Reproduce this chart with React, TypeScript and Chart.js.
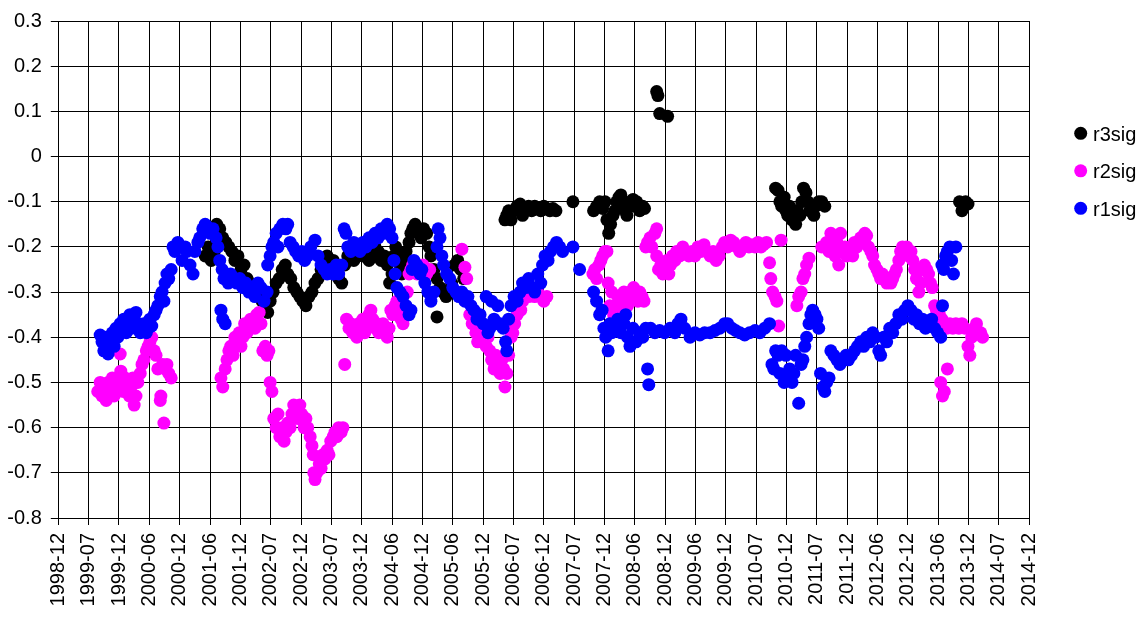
import { useEffect, useRef } from "react";
import { Chart, registerables } from "chart.js";

Chart.register(...registerables);

// ---------- data ----------
const xTickLabels = [
  "1998-12", "1999-07", "1999-12", "2000-06", "2000-12", "2001-06", "2001-12",
  "2002-07", "2002-12", "2003-07", "2003-12", "2004-06", "2004-12", "2005-06",
  "2005-12", "2006-07", "2006-12", "2007-07", "2007-12", "2008-06", "2008-12",
  "2009-06", "2009-12", "2010-07", "2010-12", "2011-07", "2011-12", "2012-06",
  "2012-12", "2013-06", "2013-12", "2014-07", "2014-12",
];

const seriesNames = ["r3sig", "r2sig", "r1sig"];
const seriesColors = ["#000000", "#FF00FF", "#0000FF"];

// [decimal year, value]
const r3sig: [number, number][] = [
  [2001.42, -0.22], [2001.47, -0.2], [2001.52, -0.23], [2001.57, -0.21], [2001.61, -0.15],
  [2001.66, -0.16], [2001.71, -0.18], [2001.76, -0.19], [2001.81, -0.2], [2001.86, -0.21],
  [2001.91, -0.23], [2001.96, -0.22], [2002.01, -0.25], [2002.06, -0.24], [2002.11, -0.27],
  [2002.16, -0.28], [2002.21, -0.3], [2002.26, -0.29], [2002.31, -0.31], [2002.36, -0.32],
  [2002.41, -0.33], [2002.45, -0.345], [2002.49, -0.32], [2002.54, -0.3], [2002.59, -0.28],
  [2002.64, -0.27], [2002.69, -0.25], [2002.74, -0.24], [2002.78, -0.26], [2002.83, -0.27],
  [2002.88, -0.29], [2002.93, -0.3], [2002.98, -0.31], [2003.03, -0.32], [2003.08, -0.33],
  [2003.13, -0.31], [2003.18, -0.3], [2003.23, -0.28], [2003.28, -0.27], [2003.33, -0.25],
  [2003.38, -0.23], [2003.43, -0.22], [2003.48, -0.24], [2003.53, -0.23], [2003.58, -0.25],
  [2003.62, -0.27], [2003.67, -0.28], [2003.72, -0.24], [2003.77, -0.22], [2003.82, -0.21],
  [2003.87, -0.23], [2003.92, -0.22], [2003.97, -0.2], [2004.02, -0.22], [2004.07, -0.21],
  [2004.12, -0.23], [2004.17, -0.22], [2004.22, -0.2], [2004.27, -0.21], [2004.32, -0.23],
  [2004.37, -0.22], [2004.42, -0.24], [2004.46, -0.28], [2004.5, -0.26], [2004.53, -0.22],
  [2004.56, -0.2], [2004.6, -0.22], [2004.63, -0.24], [2004.66, -0.26], [2004.69, -0.23],
  [2004.73, -0.21], [2004.78, -0.19], [2004.81, -0.17], [2004.84, -0.16], [2004.88, -0.15],
  [2004.93, -0.165], [2004.98, -0.18], [2005.02, -0.16], [2005.07, -0.17], [2005.11, -0.2],
  [2005.14, -0.22], [2005.19, -0.25], [2005.24, -0.27], [2005.24, -0.355], [2005.29, -0.29],
  [2005.34, -0.3], [2005.39, -0.31], [2005.43, -0.3], [2005.48, -0.28], [2005.53, -0.24],
  [2005.58, -0.23], [2005.63, -0.25], [2005.68, -0.27],
  [2006.36, -0.14], [2006.39, -0.13], [2006.42, -0.12], [2006.46, -0.14], [2006.51, -0.12],
  [2006.56, -0.11], [2006.61, -0.105], [2006.65, -0.13], [2006.7, -0.12], [2006.75, -0.11],
  [2006.8, -0.12], [2006.85, -0.11], [2006.9, -0.115], [2006.95, -0.12], [2007.0, -0.11],
  [2007.05, -0.115], [2007.1, -0.12], [2007.15, -0.115], [2007.2, -0.12], [2007.48, -0.1],
  [2007.82, -0.12], [2007.87, -0.11], [2007.92, -0.1], [2007.97, -0.115], [2008.01, -0.1],
  [2008.04, -0.14], [2008.07, -0.17], [2008.1, -0.15], [2008.14, -0.13], [2008.17, -0.12],
  [2008.2, -0.1], [2008.24, -0.09], [2008.27, -0.085], [2008.3, -0.1], [2008.34, -0.12],
  [2008.37, -0.13], [2008.4, -0.11], [2008.43, -0.1], [2008.47, -0.095], [2008.5, -0.11],
  [2008.53, -0.1], [2008.58, -0.12], [2008.63, -0.11], [2008.66, -0.115],
  [2008.86, 0.144], [2008.88, 0.135], [2008.91, 0.095], [2009.04, 0.089],
  [2010.82, -0.07], [2010.86, -0.075], [2010.89, -0.1], [2010.92, -0.11], [2010.96, -0.09],
  [2010.99, -0.12], [2011.02, -0.13], [2011.05, -0.11], [2011.09, -0.14], [2011.12, -0.13],
  [2011.15, -0.15], [2011.18, -0.12], [2011.22, -0.13], [2011.25, -0.1], [2011.28, -0.07],
  [2011.32, -0.08], [2011.35, -0.1], [2011.38, -0.12], [2011.41, -0.11], [2011.45, -0.13],
  [2011.48, -0.11], [2011.53, -0.1], [2011.58, -0.1], [2011.63, -0.11],
  [2013.85, -0.1], [2013.89, -0.12], [2013.92, -0.11], [2013.95, -0.1], [2013.99, -0.105],
];

const r2sig: [number, number][] = [
  [1999.65, -0.52], [1999.69, -0.5], [1999.72, -0.53], [1999.75, -0.51], [1999.79, -0.54],
  [1999.82, -0.5], [1999.85, -0.52], [1999.89, -0.49], [1999.92, -0.53], [1999.95, -0.51],
  [1999.98, -0.5], [2000.02, -0.437], [2000.03, -0.475], [2000.07, -0.52], [2000.1, -0.49],
  [2000.13, -0.5], [2000.17, -0.53], [2000.2, -0.51], [2000.23, -0.49], [2000.25, -0.55],
  [2000.28, -0.53], [2000.31, -0.5], [2000.35, -0.48], [2000.38, -0.46], [2000.41, -0.45],
  [2000.45, -0.43], [2000.48, -0.42], [2000.51, -0.41], [2000.54, -0.4], [2000.58, -0.43],
  [2000.61, -0.44], [2000.64, -0.47], [2000.68, -0.54], [2000.69, -0.53], [2000.72, -0.46],
  [2000.74, -0.59], [2000.76, -0.47], [2000.79, -0.46], [2000.82, -0.48], [2000.86, -0.49],
  [2001.68, -0.49], [2001.71, -0.51], [2001.75, -0.47], [2001.78, -0.45], [2001.81, -0.43],
  [2001.84, -0.42], [2001.88, -0.44], [2001.91, -0.4], [2001.94, -0.41], [2001.98, -0.39],
  [2002.01, -0.42], [2002.04, -0.4], [2002.07, -0.37], [2002.11, -0.39], [2002.14, -0.38],
  [2002.17, -0.36], [2002.21, -0.37], [2002.24, -0.38], [2002.27, -0.35], [2002.31, -0.345],
  [2002.34, -0.37], [2002.37, -0.43], [2002.41, -0.42], [2002.44, -0.44], [2002.47, -0.43],
  [2002.49, -0.5], [2002.52, -0.52], [2002.55, -0.58], [2002.59, -0.6], [2002.62, -0.57],
  [2002.65, -0.62], [2002.69, -0.6], [2002.72, -0.63], [2002.75, -0.61], [2002.78, -0.59],
  [2002.82, -0.6], [2002.85, -0.57], [2002.88, -0.55], [2002.91, -0.56], [2002.95, -0.58],
  [2002.98, -0.55], [2003.01, -0.57], [2003.05, -0.6], [2003.08, -0.58], [2003.11, -0.6],
  [2003.15, -0.62], [2003.18, -0.64], [2003.2, -0.66], [2003.21, -0.7], [2003.23, -0.715],
  [2003.26, -0.7], [2003.3, -0.68], [2003.33, -0.69], [2003.36, -0.66], [2003.39, -0.67],
  [2003.43, -0.65], [2003.46, -0.66], [2003.49, -0.63], [2003.53, -0.62], [2003.56, -0.61],
  [2003.59, -0.62], [2003.62, -0.6], [2003.66, -0.61], [2003.69, -0.6],
  [2003.72, -0.46], [2003.75, -0.36], [2003.79, -0.38], [2003.82, -0.37], [2003.85, -0.39],
  [2003.89, -0.38], [2003.92, -0.4], [2003.95, -0.37], [2003.99, -0.38], [2004.02, -0.36],
  [2004.05, -0.39], [2004.09, -0.37], [2004.12, -0.35], [2004.15, -0.34], [2004.18, -0.36],
  [2004.22, -0.38], [2004.25, -0.37], [2004.28, -0.39], [2004.32, -0.38], [2004.35, -0.37],
  [2004.38, -0.39], [2004.42, -0.4], [2004.45, -0.38], [2004.48, -0.34], [2004.51, -0.35],
  [2004.55, -0.33], [2004.58, -0.32], [2004.61, -0.34], [2004.65, -0.36], [2004.68, -0.37],
  [2004.71, -0.33], [2004.75, -0.3], [2004.78, -0.26], [2004.81, -0.25], [2004.84, -0.24],
  [2004.88, -0.25], [2004.91, -0.26], [2004.94, -0.24], [2004.98, -0.25], [2005.01, -0.24],
  [2005.04, -0.25], [2005.07, -0.26], [2005.12, -0.25],
  [2005.65, -0.205], [2005.7, -0.245], [2005.73, -0.27], [2005.78, -0.35], [2005.82, -0.37],
  [2005.85, -0.36], [2005.88, -0.39], [2005.91, -0.41], [2005.95, -0.4], [2005.98, -0.38],
  [2006.01, -0.39], [2006.05, -0.42], [2006.08, -0.4], [2006.11, -0.43], [2006.14, -0.45],
  [2006.18, -0.47], [2006.21, -0.44], [2006.24, -0.46], [2006.28, -0.48], [2006.31, -0.45],
  [2006.34, -0.47], [2006.36, -0.51], [2006.39, -0.48], [2006.42, -0.44], [2006.46, -0.4],
  [2006.49, -0.39], [2006.52, -0.37], [2006.56, -0.35], [2006.59, -0.33], [2006.62, -0.34],
  [2006.65, -0.32], [2006.7, -0.3], [2006.75, -0.31], [2006.8, -0.3], [2006.85, -0.31],
  [2006.9, -0.3], [2006.95, -0.31], [2007.0, -0.32], [2007.05, -0.31],
  [2007.81, -0.26], [2007.84, -0.25], [2007.87, -0.27], [2007.91, -0.24], [2007.94, -0.23],
  [2007.97, -0.22], [2008.01, -0.21], [2008.04, -0.21], [2008.06, -0.28], [2008.09, -0.33],
  [2008.12, -0.3], [2008.15, -0.35], [2008.19, -0.33], [2008.22, -0.31], [2008.25, -0.34],
  [2008.29, -0.32], [2008.32, -0.3], [2008.35, -0.31], [2008.38, -0.33], [2008.42, -0.3],
  [2008.45, -0.31], [2008.48, -0.29], [2008.52, -0.3], [2008.55, -0.32], [2008.58, -0.3],
  [2008.62, -0.31], [2008.65, -0.32], [2008.68, -0.2], [2008.71, -0.19], [2008.75, -0.18],
  [2008.78, -0.2], [2008.83, -0.17], [2008.86, -0.16],
  [2008.86, -0.22], [2008.89, -0.25], [2008.93, -0.24], [2008.96, -0.26], [2008.99, -0.25],
  [2009.03, -0.23], [2009.06, -0.26], [2009.09, -0.24], [2009.12, -0.22], [2009.16, -0.23],
  [2009.19, -0.21], [2009.24, -0.22], [2009.29, -0.2], [2009.34, -0.21], [2009.39, -0.22],
  [2009.44, -0.21], [2009.49, -0.22], [2009.54, -0.2], [2009.59, -0.21], [2009.64, -0.195],
  [2009.69, -0.21], [2009.74, -0.22], [2009.79, -0.21], [2009.84, -0.23], [2009.89, -0.22],
  [2009.94, -0.2], [2009.98, -0.19], [2010.03, -0.2], [2010.08, -0.185], [2010.13, -0.19],
  [2010.18, -0.2], [2010.23, -0.21], [2010.28, -0.2], [2010.33, -0.19], [2010.38, -0.2],
  [2010.43, -0.195], [2010.48, -0.2], [2010.53, -0.19], [2010.58, -0.2], [2010.62, -0.195],
  [2010.67, -0.19], [2010.72, -0.235], [2010.74, -0.27], [2010.77, -0.3], [2010.81, -0.31],
  [2010.84, -0.32], [2010.87, -0.375], [2010.91, -0.185],
  [2011.17, -0.33], [2011.2, -0.31], [2011.24, -0.3], [2011.27, -0.27], [2011.3, -0.26],
  [2011.33, -0.24], [2011.37, -0.225], [2011.58, -0.2], [2011.66, -0.19], [2011.7, -0.21],
  [2011.73, -0.17], [2011.76, -0.2], [2011.8, -0.22], [2011.83, -0.19], [2011.86, -0.24],
  [2011.89, -0.17], [2011.93, -0.21], [2011.96, -0.2], [2011.99, -0.22], [2012.02, -0.21],
  [2012.06, -0.2], [2012.09, -0.22], [2012.12, -0.19], [2012.16, -0.2], [2012.19, -0.19],
  [2012.22, -0.18], [2012.25, -0.18], [2012.29, -0.17], [2012.32, -0.175], [2012.35, -0.2],
  [2012.39, -0.21], [2012.42, -0.22], [2012.45, -0.24], [2012.49, -0.25], [2012.52, -0.26],
  [2012.55, -0.27], [2012.58, -0.26], [2012.62, -0.27], [2012.65, -0.28], [2012.68, -0.27],
  [2012.72, -0.28], [2012.75, -0.27], [2012.78, -0.26], [2012.81, -0.25], [2012.85, -0.23],
  [2012.88, -0.21], [2012.91, -0.2], [2012.95, -0.21], [2012.98, -0.2], [2013.01, -0.22],
  [2013.05, -0.21], [2013.08, -0.23], [2013.11, -0.25], [2013.14, -0.27], [2013.18, -0.3],
  [2013.21, -0.28], [2013.24, -0.25], [2013.27, -0.24], [2013.31, -0.25], [2013.34, -0.26],
  [2013.37, -0.28], [2013.4, -0.29], [2013.44, -0.33], [2013.47, -0.34], [2013.52, -0.35],
  [2013.54, -0.5], [2013.56, -0.36], [2013.57, -0.53], [2013.59, -0.37], [2013.6, -0.52],
  [2013.64, -0.38], [2013.65, -0.47], [2013.69, -0.37], [2013.74, -0.38], [2013.79, -0.37],
  [2013.84, -0.38], [2013.89, -0.37], [2013.94, -0.38], [2013.99, -0.42], [2014.02, -0.44],
  [2014.05, -0.4], [2014.1, -0.38], [2014.13, -0.37], [2014.16, -0.39], [2014.2, -0.39],
  [2014.23, -0.4],
];

const r1sig: [number, number][] = [
  [1999.69, -0.395], [1999.72, -0.41], [1999.75, -0.43], [1999.79, -0.4], [1999.82, -0.437],
  [1999.85, -0.41], [1999.89, -0.39], [1999.92, -0.42], [1999.95, -0.38], [1999.98, -0.4],
  [2000.02, -0.37], [2000.05, -0.385], [2000.08, -0.36], [2000.12, -0.39], [2000.15, -0.365],
  [2000.18, -0.35], [2000.21, -0.38], [2000.25, -0.355], [2000.28, -0.345], [2000.31, -0.37],
  [2000.35, -0.39], [2000.38, -0.38], [2000.41, -0.37], [2000.45, -0.39], [2000.48, -0.38],
  [2000.51, -0.36], [2000.54, -0.375], [2000.58, -0.35], [2000.61, -0.34], [2000.64, -0.33],
  [2000.68, -0.31], [2000.71, -0.3], [2000.74, -0.32], [2000.76, -0.28], [2000.79, -0.26],
  [2000.82, -0.27], [2000.86, -0.25], [2000.89, -0.2], [2000.92, -0.21], [2000.97, -0.19],
  [2001.01, -0.2], [2001.04, -0.23], [2001.09, -0.2], [2001.12, -0.21], [2001.17, -0.24],
  [2001.22, -0.26], [2001.25, -0.21], [2001.3, -0.19], [2001.33, -0.18], [2001.38, -0.16],
  [2001.42, -0.15], [2001.45, -0.155], [2001.5, -0.17], [2001.55, -0.16], [2001.6, -0.18],
  [2001.63, -0.2], [2001.66, -0.23], [2001.7, -0.25], [2001.73, -0.27], [2001.68, -0.34],
  [2001.71, -0.36], [2001.75, -0.37], [2001.8, -0.28], [2001.84, -0.26], [2001.89, -0.27],
  [2001.94, -0.28], [2001.99, -0.27], [2002.04, -0.29], [2002.09, -0.28], [2002.14, -0.3],
  [2002.19, -0.29], [2002.24, -0.31], [2002.29, -0.28], [2002.34, -0.29], [2002.39, -0.32],
  [2002.44, -0.3], [2002.45, -0.24], [2002.49, -0.22], [2002.52, -0.2], [2002.55, -0.19],
  [2002.59, -0.17], [2002.62, -0.2], [2002.65, -0.16], [2002.7, -0.15], [2002.75, -0.16],
  [2002.78, -0.15], [2002.82, -0.19], [2002.87, -0.2], [2002.91, -0.21], [2002.96, -0.22],
  [2003.01, -0.21], [2003.06, -0.23], [2003.11, -0.22], [2003.16, -0.2], [2003.23, -0.185],
  [2003.28, -0.22], [2003.33, -0.24], [2003.38, -0.25], [2003.43, -0.26], [2003.48, -0.25],
  [2003.53, -0.26], [2003.58, -0.24], [2003.62, -0.26], [2003.67, -0.24], [2003.71, -0.16],
  [2003.74, -0.17], [2003.77, -0.2], [2003.82, -0.21], [2003.87, -0.19], [2003.92, -0.2],
  [2003.97, -0.21], [2004.02, -0.19], [2004.07, -0.2], [2004.12, -0.18], [2004.17, -0.19],
  [2004.22, -0.17], [2004.27, -0.18], [2004.32, -0.16], [2004.37, -0.17], [2004.42, -0.15],
  [2004.46, -0.16], [2004.5, -0.18], [2004.53, -0.23], [2004.55, -0.26], [2004.58, -0.29],
  [2004.63, -0.3], [2004.68, -0.31], [2004.73, -0.33], [2004.78, -0.35], [2004.81, -0.34],
  [2004.83, -0.25], [2004.86, -0.23], [2004.91, -0.24], [2004.96, -0.26], [2004.99, -0.25],
  [2005.04, -0.28], [2005.09, -0.3], [2005.14, -0.32], [2005.19, -0.3], [2005.24, -0.2],
  [2005.26, -0.16], [2005.29, -0.18], [2005.32, -0.22], [2005.35, -0.24], [2005.4, -0.26],
  [2005.45, -0.27], [2005.5, -0.29], [2005.55, -0.3], [2005.6, -0.31], [2005.65, -0.3],
  [2005.7, -0.32], [2005.75, -0.31], [2005.8, -0.33], [2005.85, -0.34], [2005.9, -0.36],
  [2005.95, -0.35], [2006.0, -0.37], [2006.05, -0.31], [2006.08, -0.39], [2006.11, -0.38],
  [2006.14, -0.32], [2006.18, -0.36], [2006.23, -0.37], [2006.24, -0.33], [2006.28, -0.37],
  [2006.33, -0.38], [2006.37, -0.41], [2006.39, -0.43], [2006.42, -0.36], [2006.46, -0.33],
  [2006.51, -0.31], [2006.56, -0.32], [2006.61, -0.3], [2006.65, -0.28], [2006.7, -0.29],
  [2006.75, -0.27], [2006.8, -0.29], [2006.85, -0.3], [2006.9, -0.26], [2006.95, -0.28],
  [2006.98, -0.24], [2007.02, -0.22], [2007.07, -0.23], [2007.11, -0.21], [2007.16, -0.2],
  [2007.21, -0.19], [2007.26, -0.2], [2007.31, -0.21], [2007.48, -0.2], [2007.59, -0.25],
  [2007.82, -0.3], [2007.87, -0.32], [2007.92, -0.35], [2007.96, -0.34], [2007.99, -0.38],
  [2008.02, -0.4], [2008.06, -0.43], [2008.09, -0.37], [2008.12, -0.39], [2008.17, -0.38],
  [2008.22, -0.36], [2008.27, -0.39], [2008.32, -0.37], [2008.35, -0.35], [2008.38, -0.4],
  [2008.42, -0.42], [2008.47, -0.38], [2008.52, -0.41], [2008.58, -0.39], [2008.63, -0.4],
  [2008.68, -0.38], [2008.71, -0.47], [2008.73, -0.505], [2008.76, -0.38], [2008.83, -0.39],
  [2008.91, -0.385], [2008.99, -0.39], [2009.08, -0.38], [2009.16, -0.39], [2009.21, -0.37],
  [2009.26, -0.36], [2009.32, -0.38], [2009.41, -0.4], [2009.49, -0.39], [2009.57, -0.395],
  [2009.65, -0.39], [2009.74, -0.39], [2009.82, -0.385], [2009.9, -0.38], [2009.98, -0.37],
  [2010.03, -0.37], [2010.1, -0.38], [2010.16, -0.385], [2010.23, -0.39], [2010.31, -0.395],
  [2010.39, -0.39], [2010.48, -0.385], [2010.56, -0.39], [2010.64, -0.38], [2010.72, -0.37],
  [2010.76, -0.46], [2010.79, -0.47], [2010.82, -0.43], [2010.86, -0.44], [2010.89, -0.48],
  [2010.92, -0.43], [2010.96, -0.5], [2010.99, -0.44], [2011.02, -0.49], [2011.05, -0.47],
  [2011.09, -0.5], [2011.12, -0.48], [2011.15, -0.44], [2011.2, -0.546], [2011.24, -0.46],
  [2011.27, -0.45], [2011.3, -0.42], [2011.33, -0.4], [2011.37, -0.37], [2011.4, -0.35],
  [2011.43, -0.34], [2011.47, -0.35], [2011.5, -0.36], [2011.53, -0.38], [2011.56, -0.48],
  [2011.6, -0.51], [2011.63, -0.52], [2011.66, -0.5], [2011.7, -0.49], [2011.73, -0.43],
  [2011.78, -0.44], [2011.83, -0.45], [2011.88, -0.46], [2011.93, -0.45], [2011.98, -0.44],
  [2012.02, -0.45], [2012.07, -0.44], [2012.12, -0.43], [2012.17, -0.42], [2012.22, -0.41],
  [2012.27, -0.42], [2012.32, -0.4], [2012.37, -0.41], [2012.42, -0.39], [2012.47, -0.4],
  [2012.52, -0.43], [2012.55, -0.44], [2012.6, -0.4], [2012.65, -0.41], [2012.7, -0.38],
  [2012.75, -0.39], [2012.8, -0.37], [2012.85, -0.35], [2012.9, -0.36], [2012.95, -0.34],
  [2013.0, -0.33], [2013.05, -0.34], [2013.1, -0.36], [2013.14, -0.35], [2013.19, -0.37],
  [2013.24, -0.36], [2013.29, -0.38], [2013.34, -0.37], [2013.39, -0.36], [2013.44, -0.38],
  [2013.49, -0.39], [2013.54, -0.4], [2013.57, -0.33], [2013.56, -0.24], [2013.59, -0.25],
  [2013.62, -0.22], [2013.65, -0.21], [2013.69, -0.2], [2013.72, -0.23], [2013.75, -0.26],
  [2013.79, -0.2],
];

const seriesData = [r3sig, r2sig, r1sig];

// ---------- layout / style ----------
const FONT = "'Liberation Sans', Arial, Helvetica, sans-serif";
const W = 1146;
const H = 617;

const legendPlugin = {
  id: "sideLegend",
  afterDraw(chart: any) {
    const ctx = chart.ctx as CanvasRenderingContext2D;
    ctx.save();
    ctx.font = `20px ${FONT}`;
    ctx.textBaseline = "alphabetic";
    ctx.textAlign = "left";
    chart.data.datasets.forEach((ds: any, i: number) => {
      const cy = 133.3 + i * 37.5;
      ctx.beginPath();
      ctx.arc(1080.7, cy, 6.5, 0, Math.PI * 2);
      ctx.fillStyle = ds.backgroundColor;
      ctx.fill();
      ctx.fillStyle = "#000";
      ctx.fillText(ds.label, 1093, cy + 7.3);
    });
    ctx.restore();
  },
};

export default function App() {
  const ref = useRef<HTMLCanvasElement | null>(null);

  useEffect(() => {
    document.body.style.margin = "0";
    const canvas = ref.current;
    if (!canvas) return;
    const chart = new Chart(canvas, {
      type: "scatter",
      data: {
        datasets: seriesNames.map((name, i) => ({
          label: name,
          data: seriesData[i].map(([x, y]) => ({ x, y })),
          backgroundColor: seriesColors[i],
          borderColor: seriesColors[i],
          borderWidth: 0,
          pointRadius: 6.5,
          pointHoverRadius: 6.5,
          showLine: false,
          order: seriesNames.length - i,
        })),
      },
      options: {
        animation: false,
        responsive: false,
        devicePixelRatio: 1,
        events: [],
        layout: { padding: { top: 15, right: W - 1029.3, left: 0, bottom: 0 } },
        plugins: {
          legend: { display: false },
          tooltip: { enabled: false },
        },
        scales: {
          x: {
            type: "linear",
            min: 1999,
            max: 2015,
            afterFit: (s: any) => {
              s.height = 99;
            },
            ticks: {
              stepSize: 0.5,
              maxTicksLimit: 60,
              autoSkip: false,
              minRotation: 90,
              maxRotation: 90,
              padding: 8,
              color: "#000",
              font: { family: FONT, size: 20 },
              callback: (v: any) => xTickLabels[Math.round((Number(v) - 1999) / 0.5)] ?? "",
            },
            grid: { color: "#000", lineWidth: 1, tickLength: 7, drawTicks: true },
            border: { display: true, color: "#000", width: 1 },
          },
          y: {
            type: "linear",
            min: -0.8,
            max: 0.3,
            afterFit: (s: any) => {
              s.width = 58.3;
            },
            ticks: {
              stepSize: 0.1,
              padding: 9,
              color: "#000",
              font: { family: FONT, size: 20 },
              callback: (v: any) => {
                const r = Math.round(Number(v) * 10) / 10;
                return r === 0 ? "0" : String(r);
              },
            },
            grid: { color: "#000", lineWidth: 1, tickLength: 7.5, drawTicks: true },
            border: { display: true, color: "#000", width: 1 },
          },
        },
      },
      plugins: [legendPlugin],
    });
    return () => chart.destroy();
  }, []);

  return (
    <div style={{ width: W, height: H, background: "#fff" }}>
      <canvas ref={ref} width={W} height={H} style={{ display: "block" }} />
    </div>
  );
}
